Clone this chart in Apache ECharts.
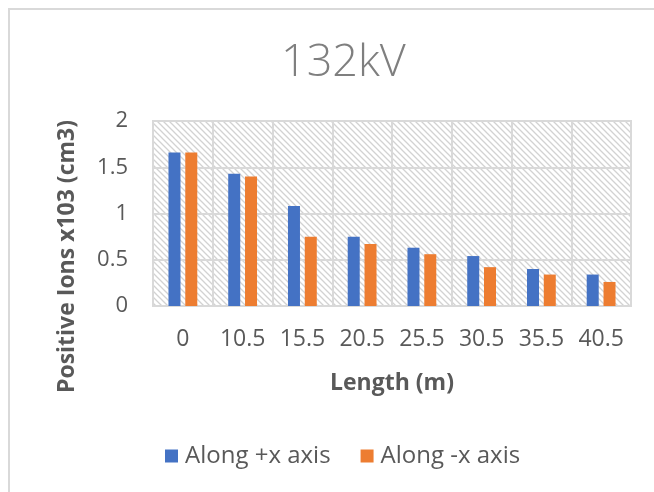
<!DOCTYPE html>
<html>
<head>
<meta charset="utf-8">
<script src="https://cdn.jsdelivr.net/npm/echarts@6/dist/echarts.min.js"></script>
<style>
  html, body { margin: 0; padding: 0; background: #ffffff; }
  #chart { width: 654px; height: 492px; }
</style>
</head>
<body>
<div id="chart"></div>
<script>
// Positive ion concentration at 132kV along the two directions
const lengths = ['0', '10.5', '15.5', '20.5', '25.5', '30.5', '35.5', '40.5'];
const alongPlusX = [1.66, 1.43, 1.08, 0.75, 0.63, 0.54, 0.40, 0.34];
const alongMinusX = [1.66, 1.40, 0.75, 0.67, 0.56, 0.42, 0.34, 0.26];
const yTicks = { min: 0, max: 2, step: 0.5 };

// Diagonal hatch tile for the plot background
function hatchTile() {
  const s = 6;
  const c = document.createElement('canvas');
  c.width = s; c.height = s;
  const g = c.getContext('2d');
  g.fillStyle = '#ffffff';
  g.fillRect(0, 0, s, s);
  g.strokeStyle = '#d2d2d2';
  g.lineWidth = 1.3;
  g.beginPath();
  g.moveTo(-1, -1); g.lineTo(s + 1, s + 1);
  g.moveTo(-1, s - 1); g.lineTo(1, s + 1);
  g.moveTo(s - 1, -1); g.lineTo(s + 1, 1);
  g.stroke();
  return c;
}

const textGray = '#595959';
const gridGray = '#d9d9d9';
const font = 'Open Sans';

const chart = echarts.init(document.getElementById('chart'));
chart.setOption({
  animation: false,
  backgroundColor: '#ffffff',
  textStyle: { fontFamily: font },
  graphic: [{
    type: 'rect',
    shape: { x: 9, y: 9, width: 700, height: 520 },
    style: { fill: 'none', stroke: gridGray, lineWidth: 2 },
    silent: true,
    z: -1
  }],
  title: {
    text: '132kV',
    left: 276,
    top: 36,
    textStyle: { fontFamily: font, fontSize: 45, fontWeight: 300, color: '#7f7f7f' }
  },
  legend: {
    bottom: 19,
    left: 160,
    itemWidth: 13,
    itemHeight: 13,
    itemGap: 30,
    icon: 'rect',
    textStyle: { fontFamily: font, fontSize: 24, color: textGray, padding: [0, 0, 0, 2] }
  },
  grid: {
    left: 153, top: 121, width: 478, height: 185,
    show: true,
    borderColor: gridGray,
    borderWidth: 2,
    backgroundColor: { image: hatchTile(), repeat: 'repeat' }
  },
  xAxis: {
    type: 'category',
    data: lengths,
    name: 'Length (m)',
    nameLocation: 'middle',
    nameGap: 66,
    nameTextStyle: { fontFamily: font, fontSize: 23, fontWeight: 'bold', color: textGray },
    axisLine: { show: true, lineStyle: { color: gridGray, width: 2 } },
    axisTick: { show: false },
    axisLabel: { fontFamily: font, fontSize: 23, color: textGray, margin: 22, interval: 0 },
    splitLine: { show: true, lineStyle: { color: gridGray, width: 2 } }
  },
  yAxis: {
    type: 'value',
    min: yTicks.min,
    max: yTicks.max,
    interval: yTicks.step,
    name: 'Positive Ions x103 (cm3)',
    nameLocation: 'middle',
    nameGap: 74,
    nameTextStyle: { fontFamily: font, fontSize: 23, fontWeight: 'bold', color: textGray, padding: [0, 86, 0, 0] },
    axisLine: { show: false },
    axisTick: { show: false },
    axisLabel: { fontFamily: font, fontSize: 22, color: textGray, margin: 25 },
    splitLine: { show: true, lineStyle: { color: gridGray, width: 2 } }
  },
  series: [
    {
      name: 'Along +x axis',
      type: 'bar',
      data: alongPlusX,
      barWidth: 12,
      barGap: '40%',
      itemStyle: { color: '#4472C4' }
    },
    {
      name: 'Along -x axis',
      type: 'bar',
      data: alongMinusX,
      barWidth: 12,
      barGap: '40%',
      itemStyle: { color: '#ED7D31' }
    }
  ]
});
</script>
</body>
</html>
